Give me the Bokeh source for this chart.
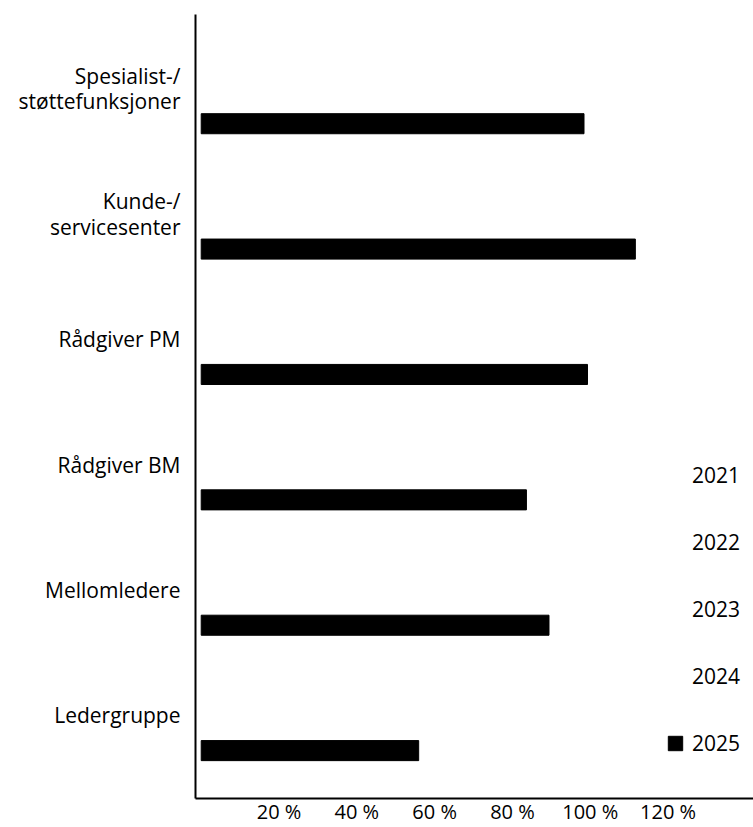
from bokeh.plotting import figure
from bokeh.models import ColumnDataSource, FixedTicker, Range1d, Legend, LegendItem
from bokeh.transform import dodge
from bokeh.embed import file_html
from bokeh.resources import INLINE

categories = ["Ledergruppe", "Mellomledere", "Rådgiver BM", "Rådgiver PM",
              "Kunde-/\nservicesenter", "Spesialist-/\nstøttefunksjoner"]
years = ["2021", "2022", "2023", "2024", "2025"]
values_2025 = [55.9, 89.4, 83.6, 99.3, 111.6, 98.4]
x_ticks = [20, 40, 60, 80, 100, 120]
x_tick_labels = ["20 %", "40 %", "60 %", "80 %", "100 %", "120 %"]

FONT = "Open Sans"
positions = list(range(len(categories)))

p = figure(width=753, height=827, output_backend="svg", toolbar_location=None,
           x_range=Range1d(-1.47, 141.97), y_range=Range1d(-0.662, 5.591),
           min_border_left=195, min_border_right=0, min_border_top=14,
           min_border_bottom=0)
p.outline_line_color = None
p.xgrid.visible = False
p.ygrid.visible = False
p.background_fill_color = "white"

src = ColumnDataSource(dict(pos=positions, val=values_2025))
empty = ColumnDataSource(dict(pos=[], val=[]))

renderers = []
for yr in years:
    if yr == "2025":
        r = p.hbar(y=dodge("pos", -0.28), left=0, right="val", height=0.16,
                   source=src, fill_color="black", line_color="black")
    else:
        r = p.hbar(y=dodge("pos", -0.28), left=0, right="val", height=0.16,
                   source=empty, fill_alpha=0, line_alpha=0)
    renderers.append(r)

# x axis
xa = p.xaxis[0]
xa.ticker = FixedTicker(ticks=x_ticks)
xa.major_label_overrides = {t: l for t, l in zip(x_ticks, x_tick_labels)}
xa.axis_line_width = 2
xa.axis_line_color = "black"
xa.major_tick_line_color = None
xa.minor_tick_line_color = None
xa.major_tick_out = 0
xa.major_tick_in = 0
xa.minor_tick_out = 0
xa.major_label_text_font = FONT
xa.major_label_text_font_size = "20px"
xa.major_label_text_color = "black"
xa.major_label_standoff = -1

# y axis
ya = p.yaxis[0]
ya.ticker = FixedTicker(ticks=positions)
ya.major_label_overrides = {i: c for i, c in zip(positions, categories)}
ya.axis_line_width = 2
ya.axis_line_color = "black"
ya.major_tick_line_color = None
ya.minor_tick_line_color = None
ya.major_tick_out = 0
ya.major_tick_in = 0
ya.minor_tick_out = 0
ya.major_label_text_font = FONT
ya.major_label_text_font_size = "21px"
ya.major_label_text_line_height = 0.92
ya.major_label_text_color = "black"
ya.major_label_standoff = 15

items = [LegendItem(label=yr, renderers=[r]) for yr, r in zip(years, renderers)]
legend = Legend(items=items, location=(471, 41), padding=0, margin=0,
                spacing=39, glyph_width=18, glyph_height=18, label_standoff=8,
                label_text_font=FONT, label_text_font_size="21px",
                label_text_color="black", border_line_color=None,
                background_fill_alpha=0)
p.add_layout(legend, "center")

open("out.html", "w").write(file_html(p, INLINE))
